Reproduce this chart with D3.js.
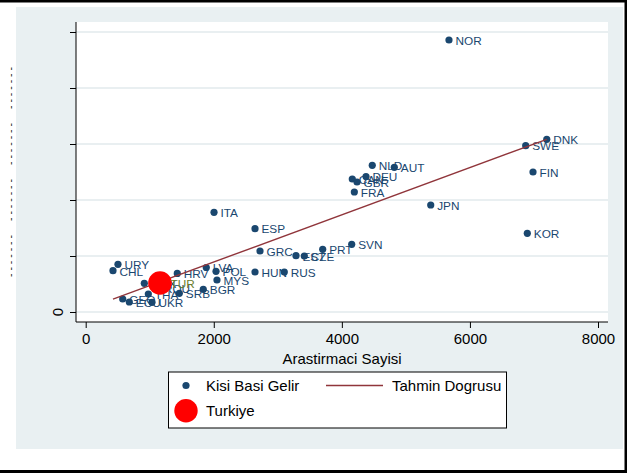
<!DOCTYPE html>
<html>
<head>
<meta charset="utf-8">
<script src="https://cdn.jsdelivr.net/npm/d3@7"></script>
<style>
  body { margin: 0; background: #fff; }
  svg { display: block; font-family: "Liberation Sans", Arial, sans-serif; }
</style>
</head>
<body>
<svg id="chart" width="627" height="473"></svg>
<script>
// Country codes, researchers per million (x) and income per capita (y)
const countries   = ["NOR","DNK","SWE","FIN","KOR","JPN","NLD","AUT","CAN","GBR","DEU","FRA","ITA","ESP","GRC","EST","CZE","PRT","SVN","HUN","RUS","URY","CHL","MEX","ROU","HRV","LVA","POL","MYS","THA","GEO","ECU","UKR","SRB","BGR"];
const researchers = [5673, 7200, 6871, 6985, 6896, 5388, 4475, 4819, 4163, 4237, 4377, 4195, 2004, 2644, 2722, 3284, 3414, 3701, 4154, 2644, 3101, 504, 426, 915, 1120, 1430, 1883, 2035, 2050, 978, 578, 681, 1035, 1462, 1836];
const income      = [48570, 30840, 29700, 25000, 14050, 19110, 26200, 25840, 23750, 23210, 24200, 21430, 17800, 14880, 10890, 10050, 10000, 11200, 12090, 7140, 7140, 8520, 7375, 5125, 4250, 6880, 7950, 7270, 5710, 3210, 2320, 1790, 1730, 3340, 4050];

// Highlighted country
const turkeyCode        = ["TUR"];
const turkeyResearchers = [1160];
const turkeyIncome      = [5180];

// Fitted line end points (min and max of x)
const fitX = [426, 7200];
const fitY = [2300, 30840];

const xTicks = [0, 2000, 4000, 6000, 8000];
const yTicks = [0, 10000, 20000, 30000, 40000, 50000];
const yTickText = ["0", "- - - - - - -", "- - - - - - -", "- - - - - - -", "- - - - - - -", ""];

const xTitle = "Arastirmaci Sayisi";
const legendLabels = ["Kisi Basi Gelir", "Tahmin Dogrusu", "Turkiye"];

const navy = "#1a476f", maroon = "#90353b", red = "#ff0000", olive = "#6a7d2c";
const bgBlue = "#e9f0f2", gridBlue = "#e2eaed";

const svg = d3.select("#chart");

// page background and frame
svg.append("rect").attr("width", 627).attr("height", 473).attr("fill", "#fff");
svg.append("rect").attr("x", 16).attr("y", 7).attr("width", 607).attr("height", 442).attr("fill", bgBlue);
svg.append("rect").attr("x", 0).attr("y", 0).attr("width", 627).attr("height", 2.5).attr("fill", "#000");
svg.append("rect").attr("x", 624.5).attr("y", 0).attr("width", 2.5).attr("height", 473).attr("fill", "#000");
svg.append("rect").attr("x", 0).attr("y", 470).attr("width", 627).attr("height", 3).attr("fill", "#000");

const plot = { left: 76, right: 608, top: 22, bottom: 322 };
svg.append("rect")
  .attr("x", plot.left).attr("y", plot.top)
  .attr("width", plot.right - plot.left).attr("height", plot.bottom - plot.top)
  .attr("fill", "#fff");

const x = d3.scaleLinear().domain([0, 8000]).range([85.7, 598]);
const y = d3.scaleLinear().domain([0, 50000]).range([312, 32]);

// gridlines
svg.append("g").selectAll("line").data(yTicks).join("line")
  .attr("x1", plot.left).attr("x2", plot.right)
  .attr("y1", d => y(d)).attr("y2", d => y(d))
  .attr("stroke", gridBlue).attr("stroke-width", 1.3);

// x axis
const xAxis = svg.append("g")
  .attr("transform", `translate(0,${plot.bottom})`)
  .call(d3.axisBottom(x).tickValues(xTicks).tickSize(6).tickPadding(5).tickFormat(d3.format("d")));
xAxis.select(".domain").remove();
xAxis.selectAll(".tick line").attr("stroke", "#000");
xAxis.selectAll(".tick text").attr("font-size", 15).attr("fill", "#000")
  .attr("font-family", "Liberation Sans, Arial, sans-serif");
svg.append("line").attr("x1", plot.left).attr("x2", plot.right)
  .attr("y1", plot.bottom).attr("y2", plot.bottom).attr("stroke", "#000");

svg.append("text").attr("x", (plot.left + plot.right) / 2).attr("y", 364)
  .attr("text-anchor", "middle").attr("font-size", 15).attr("fill", "#000").text(xTitle);

// y axis
const yAxis = svg.append("g")
  .attr("transform", `translate(${plot.left},0)`)
  .call(d3.axisLeft(y).tickValues(yTicks).tickSize(6).tickFormat(""));
yAxis.select(".domain").remove();
yAxis.selectAll(".tick line").attr("stroke", "#000");
svg.append("line").attr("x1", plot.left).attr("x2", plot.left)
  .attr("y1", plot.top).attr("y2", plot.bottom).attr("stroke", "#000");

// y tick labels (rotated)
svg.append("g").selectAll("text").data(yTicks).join("text")
  .attr("transform", (d, i) => i === 0 ? `translate(63,${y(d)}) rotate(-90)` : `translate(13.5,${y(d)}) rotate(-90)`)
  .attr("text-anchor", "middle")
  .attr("font-size", (d, i) => i === 0 ? 15 : 10.5)
  .attr("fill", (d, i) => i === 0 ? "#000" : "#222")
  .text((d, i) => yTickText[i]);

// scatter points
const pts = countries.map((c, i) => ({ c, x: researchers[i], y: income[i] }));
svg.append("g").selectAll("circle").data(pts).join("circle")
  .attr("cx", d => x(d.x)).attr("cy", d => y(d.y)).attr("r", 3.6).attr("fill", navy);
svg.append("g").selectAll("text").data(pts).join("text")
  .attr("x", d => x(d.x) + 6.5).attr("y", d => y(d.y) + 4.8)
  .attr("font-size", 11.8).attr("fill", navy).text(d => d.c);

// fitted line
svg.append("path")
  .datum(fitX.map((v, i) => [v, fitY[i]]))
  .attr("d", d3.line().x(d => x(d[0])).y(d => y(d[1])))
  .attr("fill", "none").attr("stroke", maroon).attr("stroke-width", 1.4);

// highlighted country
const tur = turkeyCode.map((c, i) => ({ c, x: turkeyResearchers[i], y: turkeyIncome[i] }));
svg.append("g").selectAll("circle").data(tur).join("circle")
  .attr("cx", d => x(d.x)).attr("cy", d => y(d.y)).attr("r", 11.8).attr("fill", red);
svg.append("g").selectAll("text").data(tur).join("text")
  .attr("x", d => x(d.x) + 10.5).attr("y", d => y(d.y) + 4.8)
  .attr("font-size", 11.8).attr("fill", olive).text(d => d.c);

// legend
const lg = svg.append("g");
lg.append("rect").attr("x", 168.5).attr("y", 372).attr("width", 338).attr("height", 56)
  .attr("fill", "#fff").attr("stroke", "#000").attr("stroke-width", 1);
lg.append("circle").attr("cx", 186).attr("cy", 385.5).attr("r", 3.6).attr("fill", navy);
lg.append("text").attr("x", 206).attr("y", 391).attr("font-size", 15).attr("fill", "#000").text(legendLabels[0]);
lg.append("line").attr("x1", 326).attr("x2", 383).attr("y1", 385.5).attr("y2", 385.5)
  .attr("stroke", maroon).attr("stroke-width", 1.4);
lg.append("text").attr("x", 392).attr("y", 391).attr("font-size", 15).attr("fill", "#000").text(legendLabels[1]);
lg.append("circle").attr("cx", 186).attr("cy", 410.7).attr("r", 11.7).attr("fill", red);
lg.append("text").attr("x", 206).attr("y", 416).attr("font-size", 15).attr("fill", "#000").text(legendLabels[2]);
</script>
</body>
</html>
